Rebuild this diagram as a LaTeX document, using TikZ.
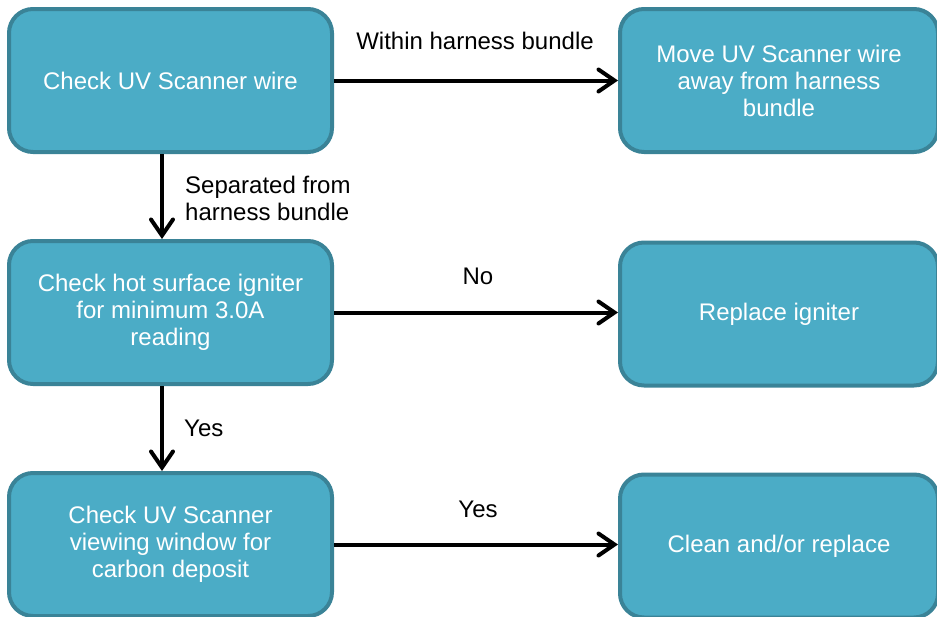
\documentclass[tikz,border=0pt]{standalone}
\usepackage{fontspec}
\setmainfont{Liberation Sans}
\usetikzlibrary{arrows.meta}
\definecolor{boxfill}{HTML}{4BACC6}
\definecolor{boxline}{HTML}{3A8397}
\begin{document}
\begin{tikzpicture}[x=1pt,y=1pt,
  box/.style={draw=boxline, fill=boxfill, line width=4pt, rounded corners=24pt,
    text=white, align=center, font=\fontsize{24}{27}\selectfont, inner sep=0pt},
  lbox/.style={box, minimum width=323pt, minimum height=143pt},
  rbox/.style={box, minimum width=318pt, minimum height=143pt},
  conn/.style={line width=4pt, -{Straight Barb[length=16pt,width=22pt,line width=4pt,line cap=round]}},
  lab/.style={font=\fontsize{24}{27}\selectfont, inner sep=0pt}]
\useasboundingbox (0,0) rectangle (937,-616);
\node[lbox] (a) at (170.5,-80.5) {Check UV Scanner wire};
\node[rbox] (b) at (779,-80.5) {Move UV Scanner wire\\away from harness\\bundle};
\node[lbox] (c) at (170.5,-312.5) {Check hot surface igniter\\for minimum 3.0A\\reading};
\node[rbox] (d) at (779,-314) {Replace igniter};
\node[lbox] (e) at (170.5,-544.5) {Check UV Scanner\\viewing window for\\carbon deposit};
\node[rbox] (f) at (779,-546) {Clean and/or replace};
\draw[conn] (a.east) -- (b.west);
\draw[conn] (c.east) -- (c.east -| d.west);
\draw[conn] (e.east) -- (e.east -| f.west);
\draw[conn] ([xshift=-8.5pt]a.south) -- ([xshift=-8.5pt]c.north);
\draw[conn] ([xshift=-8.5pt]c.south) -- ([xshift=-8.5pt]e.north);
\node[lab] (l1) at (475,-41) {Within harness bundle};
\node[lab] (l2) at (478,-276) {No};
\node[lab] (l3) at (478,-509) {Yes};
\node[lab, anchor=west, align=left] (l4) at (185,-198) {Separated from\\harness bundle};
\node[lab, anchor=west] (l5) at (184,-428) {Yes};
\end{tikzpicture}
\end{document}
